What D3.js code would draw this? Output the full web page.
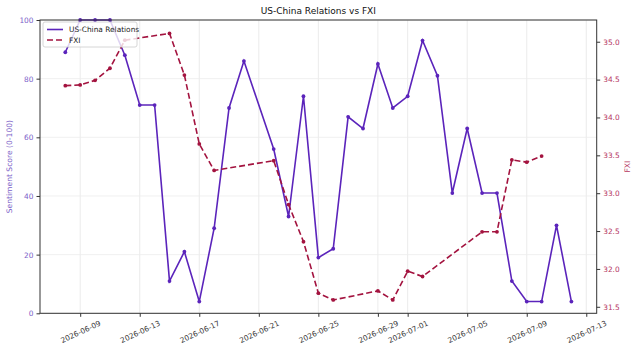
<html>
<script src='https://d3js.org/d3.v7.min.js'></script>
<style>
  body {margin: 0; background: white;}
  text {font-family: "DejaVu Sans", sans-serif;}
</style>
<body>
<svg id="chart" width=640 height=352></svg>
<script>
// sentiment, daily
var sentDates = ["2026-06-08","2026-06-09","2026-06-10","2026-06-11","2026-06-12","2026-06-13","2026-06-14",
  "2026-06-15","2026-06-16","2026-06-17","2026-06-18","2026-06-19","2026-06-20","2026-06-22","2026-06-23",
  "2026-06-24","2026-06-25","2026-06-26","2026-06-27","2026-06-28","2026-06-29","2026-06-30","2026-07-01",
  "2026-07-02","2026-07-03","2026-07-04","2026-07-05","2026-07-06","2026-07-07","2026-07-08","2026-07-09",
  "2026-07-10","2026-07-11","2026-07-12"];
var sentValues = [89,100,100,100,88,71,71,11,21,4,29,70,86,56,33,74,19,22,67,63,85,70,74,93,81,41,63,41,41,11,4,4,30,4];

// FXI, trading days only
var fxiDates = ["2026-06-08","2026-06-09","2026-06-10","2026-06-11","2026-06-12","2026-06-15","2026-06-16",
  "2026-06-17","2026-06-18","2026-06-22","2026-06-23","2026-06-24","2026-06-25","2026-06-26","2026-06-29",
  "2026-06-30","2026-07-01","2026-07-02","2026-07-06","2026-07-07","2026-07-08","2026-07-09","2026-07-10"];
var fxiValues = [34.42,34.43,34.49,34.65,35.02,35.11,34.56,33.65,33.30,33.43,32.85,32.36,31.68,31.59,31.71,
  31.59,31.97,31.90,32.49,32.49,33.44,33.41,33.49];

var leftTicks = [0,20,40,60,80,100];
var rightTicks = [31.5,32.0,32.5,33.0,33.5,34.0,34.5,35.0];
var xTicks = ["2026-06-09","2026-06-13","2026-06-17","2026-06-21","2026-06-25","2026-06-29","2026-07-01",
  "2026-07-05","2026-07-09","2026-07-13"];

var purple = "#5b24bb", crimson = "#a3133f";
var parse = d3.utcParse("%Y-%m-%d");
var fmt = d3.utcFormat("%Y-%m-%d");

var L = 40, R = 596.7, T = 20, B = 313.3;
var svg = d3.select("#chart");

var x = d3.scaleUtc().domain([parse("2026-06-06").getTime() + 0.3*864e5, parse("2026-07-13").getTime() + 0.7*864e5]).range([L, R]);
var y = d3.scaleLinear().domain([0, 100]).range([B, T]);
var y2 = d3.scaleLinear().domain([31.414, 35.287]).range([B, T]);

// grid
svg.append("g").selectAll("line").data(xTicks).enter().append("line")
  .attr("x1", d => x(parse(d))).attr("x2", d => x(parse(d)))
  .attr("y1", T).attr("y2", B)
  .attr("stroke", "#e6e6e6").attr("stroke-width", 0.8);
svg.append("g").selectAll("line").data(leftTicks).enter().append("line")
  .attr("x1", L).attr("x2", R)
  .attr("y1", d => y(d)).attr("y2", d => y(d))
  .attr("stroke", "#ececec").attr("stroke-width", 0.8);

// axes
var xAxis = svg.append("g").attr("transform", "translate(0," + B + ")")
  .call(d3.axisBottom(x).tickValues(xTicks.map(parse)).tickFormat(fmt).tickSize(3.5).tickPadding(3));
xAxis.select(".domain").remove();
xAxis.selectAll("text")
  .attr("font-size", 7.4).attr("fill", "#333")
  .attr("text-anchor", "middle")
  .attr("transform", "translate(0,18.5) rotate(-25)")
  .attr("dy", "0.35em").attr("y", 0);

var yAxis = svg.append("g").attr("transform", "translate(" + L + ",0)")
  .call(d3.axisLeft(y).tickValues(leftTicks).tickSize(3.5).tickPadding(3));
yAxis.select(".domain").remove();
yAxis.selectAll("text").attr("font-size", 7.4).attr("fill", "#7c5fc9");

var y2Axis = svg.append("g").attr("transform", "translate(" + R + ",0)")
  .call(d3.axisRight(y2).tickValues(rightTicks).tickFormat(d3.format(".1f")).tickSize(3.5).tickPadding(3));
y2Axis.select(".domain").remove();
y2Axis.selectAll("text").attr("font-size", 7.4).attr("fill", "#b5365f");

svg.selectAll(".tick line").attr("stroke", "#333");

// series
var sent = sentDates.map((d, i) => ({d: parse(d), v: sentValues[i]}));
var fxi = fxiDates.map((d, i) => ({d: parse(d), v: fxiValues[i]}));

svg.append("path").datum(sent)
  .attr("d", d3.line().x(p => x(p.d)).y(p => y(p.v)))
  .attr("fill", "none").attr("stroke", purple).attr("stroke-width", 1.6);
svg.append("g").selectAll("circle").data(sent).enter().append("circle")
  .attr("cx", p => x(p.d)).attr("cy", p => y(p.v)).attr("r", 1.9).attr("fill", purple);

svg.append("path").datum(fxi)
  .attr("d", d3.line().x(p => x(p.d)).y(p => y2(p.v)))
  .attr("fill", "none").attr("stroke", crimson).attr("stroke-width", 1.6)
  .attr("stroke-dasharray", "6,3");
svg.append("g").selectAll("circle").data(fxi).enter().append("circle")
  .attr("cx", p => x(p.d)).attr("cy", p => y2(p.v)).attr("r", 1.9).attr("fill", crimson);

// frame
svg.append("rect").attr("x", L).attr("y", T).attr("width", R - L).attr("height", B - T)
  .attr("fill", "none").attr("stroke", "#333").attr("stroke-width", 1);

// labels
svg.append("text").attr("x", (L + R) / 2).attr("y", 14).attr("text-anchor", "middle")
  .attr("font-size", 9).attr("fill", "#111").text("US-China Relations vs FXI");
svg.append("text").attr("transform", "translate(12," + (T + B) / 2 + ") rotate(-90)")
  .attr("text-anchor", "middle").attr("font-size", 7.6).attr("fill", "#7c5fc9")
  .text("Sentiment Score (0-100)");
svg.append("text").attr("transform", "translate(630," + (T + B) / 2 + ") rotate(-90)")
  .attr("text-anchor", "middle").attr("font-size", 7.6).attr("fill", "#b5365f").text("FXI");

// legend
var lg = svg.append("g").attr("transform", "translate(43,22)");
lg.append("rect").attr("width", 94).attr("height", 25).attr("rx", 2)
  .attr("fill", "white").attr("fill-opacity", 0.8).attr("stroke", "#ccc").attr("stroke-width", 0.8);
lg.append("line").attr("x1", 4).attr("x2", 20).attr("y1", 7.5).attr("y2", 7.5)
  .attr("stroke", purple).attr("stroke-width", 1.6);
lg.append("line").attr("x1", 4).attr("x2", 20).attr("y1", 18).attr("y2", 18)
  .attr("stroke", crimson).attr("stroke-width", 1.6).attr("stroke-dasharray", "6,3");
lg.append("text").attr("x", 26).attr("y", 10).attr("font-size", 7.4).attr("fill", "#222").text("US-China Relations");
lg.append("text").attr("x", 26).attr("y", 20.5).attr("font-size", 7.4).attr("fill", "#222").text("FXI");
</script>
</body>
</html>
